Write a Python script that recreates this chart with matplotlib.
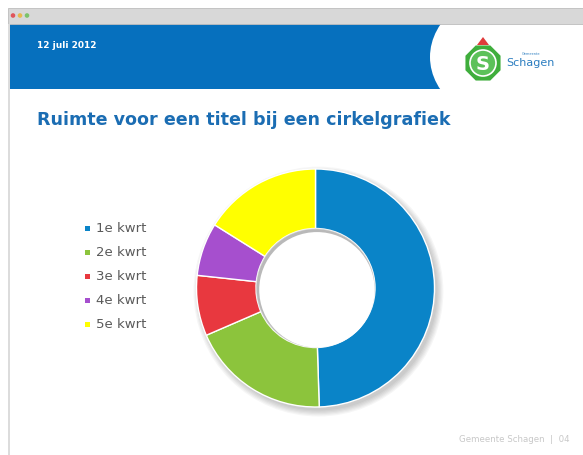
import matplotlib
matplotlib.use("Agg")
import matplotlib.pyplot as plt
from matplotlib.patches import Rectangle, Ellipse, Circle, Polygon
import numpy as np

categories = ["1e kwrt", "2e kwrt", "3e kwrt", "4e kwrt", "5e kwrt"]
values = [49.5, 19.0, 8.2, 7.2, 16.1]
colors = ["#0a84c8", "#8cc43c", "#e8383f", "#a64fce", "#ffff00"]
title = "Ruimte voor een titel bij een cirkelgrafiek"
date_text = "12 juli 2012"
footer = "Gemeente Schagen  |  04"

W, H = 583, 455
fig = plt.figure(figsize=(W / 100, H / 100), dpi=100)
fig.patch.set_facecolor("white")

bg = fig.add_axes([0, 0, 1, 1])
bg.set_xlim(0, W)
bg.set_ylim(H, 0)
bg.axis("off")

# blue header with curved white cut-out
bg.add_patch(Rectangle((10, 24), 432, 65, facecolor="#0670be", edgecolor="none", zorder=1))
bg.add_patch(Ellipse((521, 57), 182, 140, facecolor="white", edgecolor="none", zorder=2))
bg.add_patch(Rectangle((10, 89), W, 6, facecolor="white", edgecolor="none", zorder=2))
bg.text(37, 46, date_text, color="white", fontsize=6.5, fontweight="bold", va="center", ha="left", zorder=3)

# window chrome (on top)
bg.add_patch(Rectangle((0, 0), W, 8, facecolor="white", edgecolor="none", zorder=4))
bg.add_patch(Rectangle((8, 8), W - 8, 16, facecolor="#d8d8d8", edgecolor="#bdbdbd", lw=0.6, zorder=5))
for x, c in [(13, "#e0555a"), (20, "#e8b94c"), (27, "#7cc36a")]:
    bg.add_patch(Circle((x, 15.5), 2.3, facecolor=c, edgecolor="none", zorder=6))
bg.add_patch(Rectangle((7.5, 24), 2.5, H - 24, facecolor="#dcdcdc", edgecolor="none", zorder=5))

# logo
hexpts = [(483 + 19 * np.cos(a), 63 + 19 * np.sin(a)) for a in np.linspace(0, 2 * np.pi, 9)[:-1] + np.pi / 8]
bg.add_patch(Polygon(hexpts, closed=True, facecolor="#3fae3c", edgecolor="none", zorder=3))
bg.add_patch(Circle((483, 63), 13, facecolor="#5cc15a", edgecolor="white", lw=1.2, zorder=3))
bg.text(483, 64, "S", color="white", fontsize=14, fontweight="bold", ha="center", va="center", zorder=4)
bg.add_patch(Polygon([(477, 45), (489, 45), (483, 37)], closed=True, facecolor="#e03b3b", edgecolor="none", zorder=3))
bg.text(531, 54, "Gemeente", color="#2b7dc0", fontsize=2.5, ha="center", va="center", zorder=3)
bg.text(530, 63, "Schagen", color="#2b7dc0", fontsize=8, ha="center", va="center", zorder=3)

# title
bg.text(37, 120, title, color="#1b6db3", fontsize=12.6, fontweight="bold", ha="left", va="center")

# footer
bg.text(570, 440, footer, color="#c8c8c8", fontsize=6.2, ha="right", va="center")

# legend
for i, (cat, col) in enumerate(zip(categories, colors)):
    y = 228 + 24 * i
    bg.add_patch(Rectangle((84.5, y - 2.5), 5, 5, facecolor=col, edgecolor="none"))
    bg.text(96, y, cat, color="#5a5a5a", fontsize=9.5, ha="left", va="center")

# donut axes
cx, cy, R = 315.5, 288, 119
pad = 12
lim = (R + pad) / R
ax = fig.add_axes([(cx - R - pad) / W, 1 - (cy + R + pad) / H, 2 * (R + pad) / W, 2 * (R + pad) / H])
ax.axis("off")

# soft drop shadow
for k in range(6):
    r = 1.0 + 0.01 * k
    ax.add_patch(Circle((0.025, -0.03), r, facecolor="#000000", alpha=0.035, edgecolor="none", zorder=0))

ax.pie(values, colors=colors, startangle=90, counterclock=False, radius=1.0,
       wedgeprops=dict(width=0.5, edgecolor="white", linewidth=1.0), normalize=True)
ax.set_xlim(-lim, lim)
ax.set_ylim(-lim, lim)
ax.set_aspect("auto")

# subtle inner hole shading
ax.add_patch(Circle((0, 0), 0.5, facecolor="#9a9a9a", edgecolor="none", alpha=0.35, zorder=4))
ax.add_patch(Circle((0.012, -0.015), 0.485, facecolor="white", edgecolor="none", zorder=5))

fig.savefig("out.png", dpi=100, facecolor="white")
